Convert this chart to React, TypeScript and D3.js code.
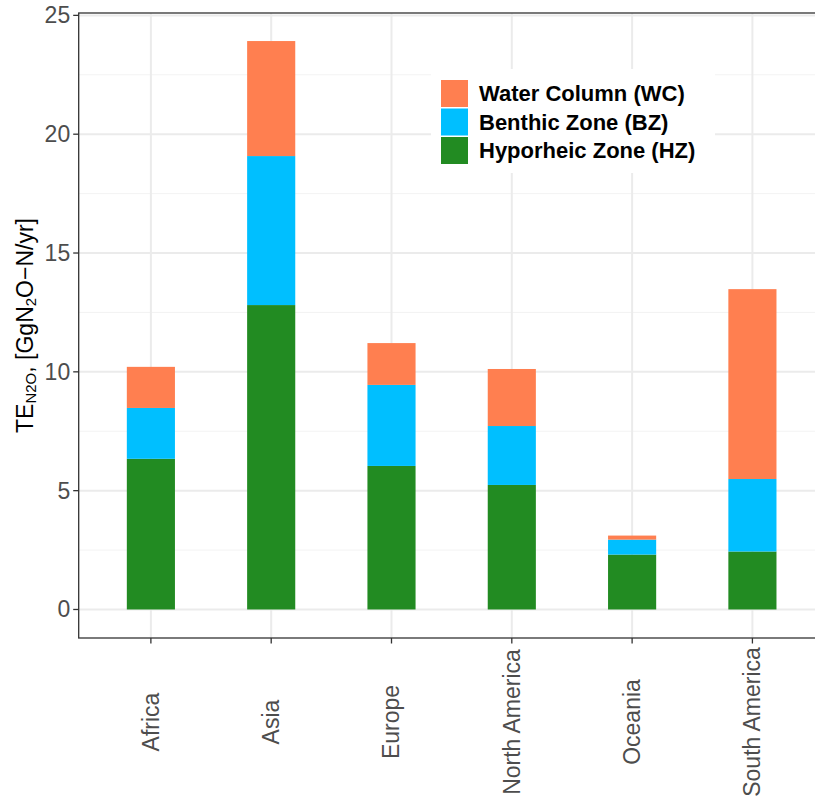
import React from "react";
import * as d3 from "d3";

const categories = ["Africa", "Asia", "Europe", "North America", "Oceania", "South America"];
const hzValues = [6.34, 12.81, 6.04, 5.24, 2.31, 2.44];
const bzValues = [2.14, 6.27, 3.41, 2.48, 0.63, 3.05];
const wcValues = [1.73, 4.84, 1.76, 2.4, 0.17, 7.99];
const seriesNames = ["Hyporheic Zone (HZ)", "Benthic Zone (BZ)", "Water Column (WC)"];
const seriesColors = ["#228B22", "#00BFFF", "#FF7F50"];
const legendOrder = [2, 1, 0];
const yTicks = [0, 5, 10, 15, 20, 25];
const yMinor = [2.5, 7.5, 12.5, 17.5, 22.5];

export default function App() {
  const W = 815, H = 800;
  const left = 78.7, right = 824.6, top = 13, bottom = 638;
  const x = d3.scalePoint<string>().domain(categories).range([left, right]).padding(0.6);
  const y = d3.scaleLinear().domain([-1.2, 25.1]).range([bottom, top]);
  const step = x.step();
  const barW = step * 0.4;

  const rows = categories.map((c, i) => ({ cat: c, s0: hzValues[i], s1: bzValues[i], s2: wcValues[i] }));
  const stack = d3.stack<any>().keys(["s0", "s1", "s2"])(rows);

  const tickFont = "Liberation Sans, Arial, Helvetica, sans-serif";

  return (
    <svg width={W} height={H} style={{ position: "absolute", left: 0, top: 0, background: "#fff" }}>
      <defs>
        <clipPath id="panel">
          <rect x={left} y={top} width={right - left} height={bottom - top} />
        </clipPath>
      </defs>
      <rect x={0} y={0} width={W} height={H} fill="#fff" />
      <g clipPath="url(#panel)">
        {yMinor.map((v) => (
          <line key={"mi" + v} x1={left} x2={right} y1={y(v)} y2={y(v)} stroke="#F3F3F3" strokeWidth={1} />
        ))}
        {yTicks.map((v) => (
          <line key={"ma" + v} x1={left} x2={right} y1={y(v)} y2={y(v)} stroke="#EBEBEB" strokeWidth={2} />
        ))}
        {categories.map((c) => (
          <line key={"vx" + c} x1={x(c)!} x2={x(c)!} y1={top} y2={bottom} stroke="#EBEBEB" strokeWidth={2} />
        ))}
        {stack.map((layer, li) =>
          layer.map((d: any, i: number) => (
            <rect
              key={li + "-" + i}
              x={x(categories[i])! - barW / 2}
              width={barW}
              y={y(d[1])}
              height={y(d[0]) - y(d[1])}
              fill={seriesColors[li]}
            />
          ))
        )}
        {/* legend */}
        <rect x={431} y={69} width={284} height={104} fill="#fff" />
        {legendOrder.map((si, k) => (
          <g key={"lg" + si}>
            <rect x={441} y={80 + k * 28.5} width={27} height={27} fill={seriesColors[si]} />
            <text
              x={479}
              y={80 + k * 28.5 + 13.5}
              dominantBaseline="central"
              fontFamily={tickFont}
              fontWeight="bold"
              fontSize={22}
              fill="#000"
            >
              {seriesNames[si]}
            </text>
          </g>
        ))}
      </g>
      {/* panel border */}
      <rect x={left} y={top} width={right - left} height={bottom - top} fill="none" stroke="#333333" strokeWidth={1.3} />
      {/* y axis ticks */}
      {yTicks.map((v) => (
        <g key={"yt" + v}>
          <line x1={left - 5.5} x2={left} y1={y(v)} y2={y(v)} stroke="#333333" strokeWidth={1.3} />
          <text x={left - 8.5} y={y(v)} textAnchor="end" dominantBaseline="central" fontFamily={tickFont} fontSize={23} fill="#4D4D4D">
            {v}
          </text>
        </g>
      ))}
      {/* x axis ticks */}
      {categories.map((c) => (
        <g key={"xt" + c}>
          <line x1={x(c)!} x2={x(c)!} y1={bottom} y2={bottom + 5.5} stroke="#333333" strokeWidth={1.3} />
          <text
            transform={`translate(${x(c)!},722) rotate(-90)`}
            textAnchor="middle"
            dominantBaseline="central"
            fontFamily={tickFont}
            fontSize={23}
            fill="#4D4D4D"
          >
            {c}
          </text>
        </g>
      ))}
      {/* y axis title */}
      <text
        transform={`translate(25,${(top + bottom) / 2}) rotate(-90)`}
        textAnchor="middle"
        dominantBaseline="central"
        fontFamily={tickFont}
        fontSize={23}
        fill="#000"
      >
        <tspan>TE</tspan>
        <tspan fontSize={15} dy={5}>N2O</tspan>
        <tspan dy={-5}>, [GgN</tspan>
        <tspan fontSize={15} dy={5}>2</tspan>
        <tspan dy={-5}>O−N/yr]</tspan>
      </text>
    </svg>
  );
}
